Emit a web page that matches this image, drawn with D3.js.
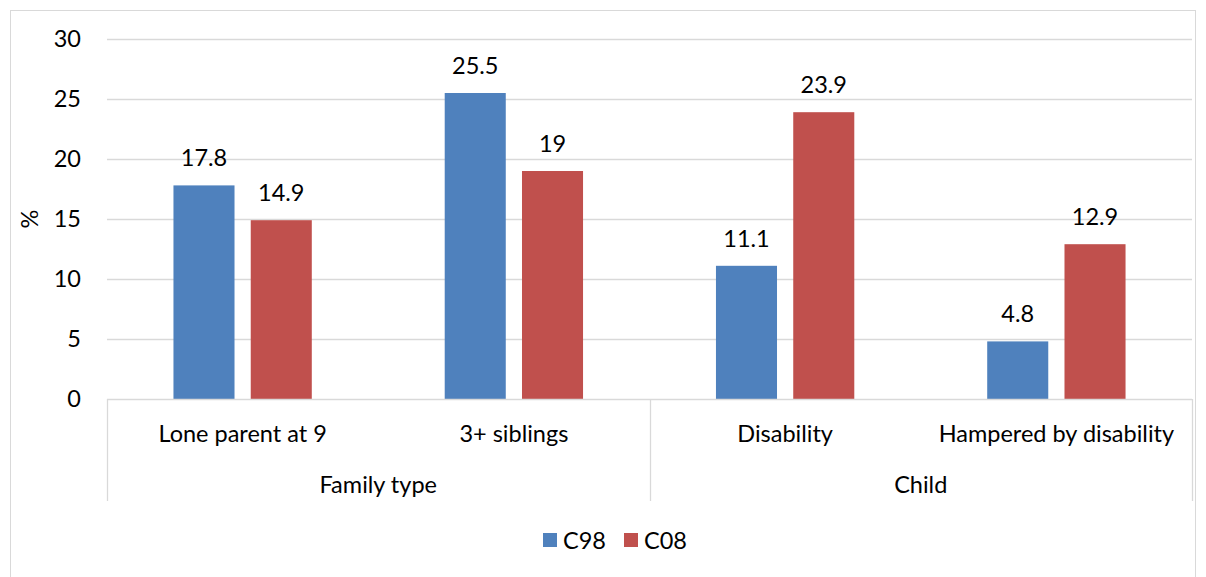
<!DOCTYPE html>
<html><head><meta charset="utf-8">
<script src="https://cdn.jsdelivr.net/npm/d3@7"></script>
<style>
html,body{margin:0;padding:0;background:#fff;}
text{font-family:Lato, "Open Sans", sans-serif;fill:#000;}
</style></head><body>
<svg id="chart" width="1206" height="577"></svg>
<script>
const categories = ["Lone parent at 9","3+ siblings","Disability","Hampered by disability"];
const groups = [{name:"Family type", cats:["Lone parent at 9","3+ siblings"]},{name:"Child", cats:["Disability","Hampered by disability"]}];
const seriesNames = ["C98","C08"];
const c98 = [17.8, 25.5, 11.1, 4.8];
const c08 = [14.9, 19, 23.9, 12.9];
const yTicks = [0,5,10,15,20,25,30];
const colors = ["#4F81BD","#C0504D"];

(function(){
const svg = d3.select("#chart");
const FS = 23.5;
svg.append("rect").attr("x",10.5).attr("y",10.5).attr("width",1185).attr("height",580)
  .attr("fill","none").attr("stroke","#d9d9d9").attr("stroke-width",1);

const pL=107, pR=1192, pT=39, pB=399;
const y = d3.scaleLinear().domain([0,30]).range([pB, pT]);
const x0 = d3.scaleBand().domain(categories).range([pL,pR]).padding(0);
const x1 = d3.scaleBand().domain(seriesNames).range([0,x0.bandwidth()]).paddingInner(0.21).paddingOuter(0.86);

svg.append("g").selectAll("line").data(yTicks.filter(d=>d>0)).join("line")
  .attr("x1",pL).attr("x2",pR).attr("y1",d=>Math.round(y(d))+0.5).attr("y2",d=>Math.round(y(d))+0.5)
  .attr("stroke","#d9d9d9").attr("stroke-width",1.3);

const yAxis = d3.axisLeft(y).tickValues(yTicks).tickSize(0).tickPadding(26);
const ga = svg.append("g").attr("transform",`translate(${pL},0)`).call(yAxis);
ga.select(".domain").remove();
ga.selectAll("text").style("font-family","Lato, sans-serif").style("font-size",FS+"px").attr("fill","#000");

svg.append("text").attr("transform",`translate(38,${(pT+pB)/2}) rotate(-90)`)
  .attr("text-anchor","middle").style("font-size",FS+"px").text("%");

const data = categories.map((c,i)=>({cat:c, vals:[{s:"C98",v:c98[i]},{s:"C08",v:c08[i]}]}));
const cg = svg.append("g").selectAll("g").data(data).join("g").attr("transform",d=>`translate(${x0(d.cat)},0)`);
cg.selectAll("rect").data(d=>d.vals).join("rect")
  .attr("x",d=>x1(d.s)).attr("width",x1.bandwidth())
  .attr("y",d=>y(d.v)).attr("height",d=>y(0)-y(d.v))
  .attr("fill",(d,i)=>colors[i]);
cg.selectAll("text.lbl").data(d=>d.vals).join("text").attr("class","lbl")
  .attr("x",d=>x1(d.s)+x1.bandwidth()/2).attr("y",d=>y(d.v)-19)
  .attr("text-anchor","middle").style("font-size",FS+"px").text(d=>String(d.v));

svg.append("line").attr("x1",pL).attr("x2",pR).attr("y1",pB+0.5).attr("y2",pB+0.5)
  .attr("stroke","#d9d9d9").attr("stroke-width",1.3);
const seps = [pL, x0(groups[1].cats[0]), pR];
svg.append("g").selectAll("line").data(seps).join("line")
  .attr("x1",d=>Math.round(d)+0.5).attr("x2",d=>Math.round(d)+0.5).attr("y1",pB).attr("y2",501)
  .attr("stroke","#d9d9d9").attr("stroke-width",1.3);

svg.append("g").selectAll("text").data(categories).join("text")
  .attr("x",d=>x0(d)+x0.bandwidth()/2).attr("y",442).attr("text-anchor","middle")
  .style("font-size",FS+"px").text(d=>d);
svg.append("g").selectAll("text").data(groups).join("text")
  .attr("x",g=>(x0(g.cats[0])+x0(g.cats[g.cats.length-1])+x0.bandwidth())/2).attr("y",493)
  .attr("text-anchor","middle").style("font-size",FS+"px").text(g=>g.name);

const lg = svg.append("g");
const lx = [543, 624];
seriesNames.forEach((s,i)=>{
  lg.append("rect").attr("x",lx[i]).attr("y",533).attr("width",14).attr("height",14).attr("fill",colors[i]);
  lg.append("text").attr("x",lx[i]+20).attr("y",549).style("font-size",FS+"px").text(s);
});
})();
</script>
</body></html>
